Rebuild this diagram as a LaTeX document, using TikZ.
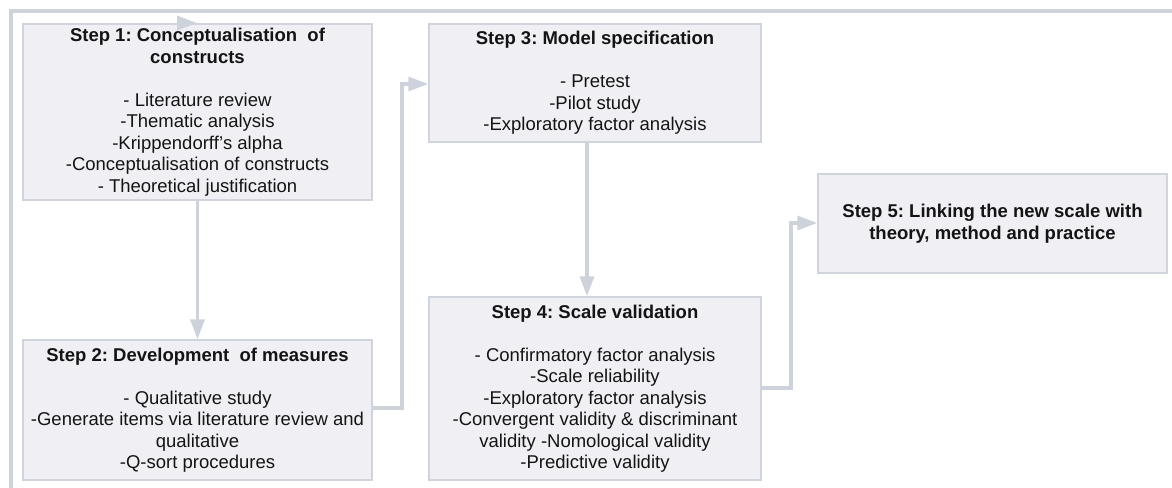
\documentclass[tikz,border=0pt]{standalone}
\usepackage{fontspec}
\setmainfont{Liberation Sans}
\usetikzlibrary{arrows.meta}
\definecolor{linegray}{HTML}{CDD2DB}
\definecolor{boxfill}{HTML}{F0F0F4}
\definecolor{boxline}{HTML}{D0D4DC}
\definecolor{txt}{HTML}{141414}
\tikzset{
  stepbox/.style={draw=boxline, fill=boxfill, line width=1.5pt, inner sep=0pt,
    align=center, text=txt, font=\fontsize{18.5}{21.5}\selectfont\frenchspacing},
  conn/.style={draw=linegray, line width=3.6pt,
    -{Triangle[length=20pt,width=14pt,fill=linegray]}},
  outer/.style={draw=linegray, line width=4pt}
}
\begin{document}
\begin{tikzpicture}[x=1pt,y=-1pt]
\useasboundingbox (0,0) rectangle (1172,487);
% outer frame line
\coordinate (o1) at (11,489);
\coordinate (o2) at (11,11);
\coordinate (o3) at (1174,11);
\draw[outer] (o1) -- (o2) -- (o3);

% boxes
\node[stepbox, minimum width=349pt, minimum height=176pt] (s1) at (197.5,112)
 {\textbf{Step 1: Conceptualisation\ \ of}\\\textbf{constructs}\\[21.5pt]
  - Literature review\\-Thematic analysis\\-Krippendorff's alpha\\
  -Conceptualisation of constructs\\- Theoretical justification};
\node[stepbox, minimum width=349pt, minimum height=140pt] (s2) at (197.5,410)
 {\textbf{Step 2: Development\ \ of measures}\\[21.5pt]
  - Qualitative study\\-Generate items via literature review and\\qualitative\\
  -Q-sort procedures};
\node[stepbox, minimum width=332pt, minimum height=118pt] (s3) at (595,83)
 {\textbf{Step 3: Model specification}\\[21.5pt]
  - Pretest\\-Pilot study\\-Exploratory factor analysis};
\node[stepbox, minimum width=332pt, minimum height=183pt] (s4) at (595,388.5)
 {\textbf{Step 4: Scale validation}\\[21.5pt]
  - Confirmatory factor analysis\\-Scale reliability\\-Exploratory factor analysis\\
  -Convergent validity \& discriminant\\validity -Nomological validity\\
  -Predictive validity};
\node[stepbox, minimum width=349pt, minimum height=99pt] (s5) at (992.5,223.5)
 {\textbf{Step 5: Linking the new scale with}\\\textbf{theory, method and practice}};

% small arrow tip on top of step 1
\coordinate (t1) at (177,23);
\coordinate (t2) at (197,23);
\draw[conn] (t1) -- (t2);

% connectors
\draw[conn] (s1.south) -- (s2.north);

\coordinate (j1) at (402,408);
\coordinate (j2) at (402,84);
\draw[conn] (s2.east |- j1) -- (j1) -- (j2) -- (s3.west |- j2);

\coordinate (k34) at (587,200);
\draw[conn] (s3.south -| k34) -- (s4.north -| k34);

\coordinate (m1) at (791,388);
\coordinate (m2) at (791,223);
\draw[conn] (s4.east |- m1) -- (m1) -- (m2) -- (s5.west |- m2);
\end{tikzpicture}
\end{document}
